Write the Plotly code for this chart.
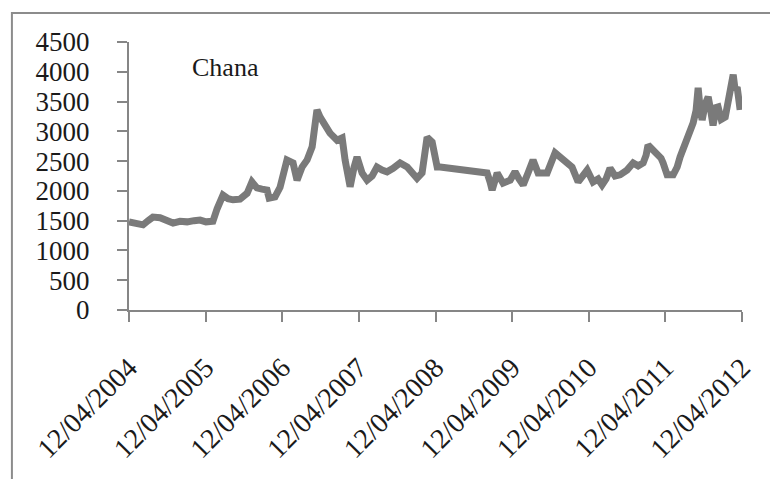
import plotly.graph_objects as go

# Chana price series
dates = [
    "2004-04-12", "2004-05-15", "2004-06-18", "2004-07-12", "2004-08-04", "2004-09-07",
    "2004-10-05", "2004-11-08", "2004-12-11", "2005-01-14", "2005-02-16", "2005-03-17",
    "2005-04-14", "2005-05-17", "2005-06-06", "2005-06-20", "2005-07-04", "2005-07-28",
    "2005-08-21", "2005-09-23", "2005-10-27", "2005-11-19", "2005-12-13", "2006-01-06",
    "2006-01-30", "2006-02-09", "2006-03-09", "2006-04-02", "2006-04-21", "2006-05-05",
    "2006-06-03", "2006-06-22", "2006-07-16", "2006-08-09", "2006-09-02", "2006-09-16",
    "2006-09-25", "2006-10-10", "2006-11-03", "2006-11-26", "2006-12-30", "2007-01-23",
    "2007-02-06", "2007-02-20", "2007-03-02", "2007-03-21", "2007-04-04", "2007-04-28",
    "2007-05-22", "2007-06-15", "2007-07-08", "2007-08-01", "2007-08-25", "2007-09-23",
    "2007-10-26", "2007-11-29", "2007-12-22", "2008-01-15", "2008-02-08", "2008-03-03",
    "2008-03-27", "2008-04-10", "2008-04-20", "2008-05-04",
    "2008-12-14", "2008-12-28", "2009-01-07", "2009-01-31", "2009-02-28", "2009-04-03",
    "2009-04-26", "2009-05-15", "2009-06-04", "2009-06-27", "2009-07-21", "2009-08-14",
    "2009-09-26", "2009-11-03", "2009-11-27", "2009-12-21", "2010-01-23", "2010-02-21",
    "2010-03-12", "2010-04-05", "2010-05-03", "2010-05-27", "2010-06-15", "2010-07-04",
    "2010-07-23", "2010-08-16", "2010-09-09", "2010-10-12", "2010-11-10", "2010-12-04",
    "2010-12-28", "2011-01-11", "2011-01-20", "2011-02-08", "2011-03-04", "2011-03-23",
    "2011-04-02", "2011-04-21", "2011-05-20", "2011-06-08", "2011-06-22", "2011-07-11",
    "2011-07-26", "2011-08-09", "2011-08-23", "2011-09-06", "2011-09-16", "2011-09-25",
    "2011-10-05", "2011-10-19", "2011-11-03", "2011-11-17", "2011-11-26", "2011-12-11",
    "2011-12-20", "2012-01-04", "2012-01-23", "2012-02-06", "2012-02-20", "2012-03-01",
    "2012-03-10", "2012-03-20", "2012-03-29", "2012-04-03",
]
prices = [
    1480, 1450, 1430, 1500, 1560, 1550,
    1510, 1460, 1490, 1480, 1500, 1510,
    1480, 1490, 1700, 1850, 1930, 1870,
    1850, 1860, 1960, 2150, 2050, 2030,
    2015, 1880, 1900, 2060, 2300, 2520,
    2470, 2180, 2400, 2520, 2740, 3100,
    3360, 3240, 3070, 2970, 2850, 2890,
    2520, 2300, 2070, 2400, 2570, 2300,
    2180, 2250, 2400, 2350, 2320, 2380,
    2470, 2400, 2300, 2210, 2300, 2900,
    2820, 2550, 2400, 2400,
    2300, 2150, 2015, 2300, 2130, 2180,
    2320, 2200, 2100, 2300, 2520, 2300,
    2300, 2640, 2560, 2520, 2400, 2150,
    2250, 2350, 2150, 2200, 2100, 2200,
    2380, 2250, 2270, 2350, 2470, 2420,
    2470, 2600, 2770, 2700, 2640, 2550,
    2470, 2270, 2270, 2400, 2570, 2750,
    2900, 3000, 3140, 3350, 3730, 3400,
    3190, 3450, 3580, 3300, 3100, 3400,
    3410, 3200, 3240, 3500, 3700, 3950,
    3700, 3740, 3500, 3360,
]

tick_dates = ["2004-04-12", "2005-04-12", "2006-04-12", "2007-04-12", "2008-04-12",
              "2009-04-12", "2010-04-12", "2011-04-12", "2012-04-12"]
tick_labels = ["12/04/2004", "12/04/2005", "12/04/2006", "12/04/2007", "12/04/2008",
               "12/04/2009", "12/04/2010", "12/04/2011", "12/04/2012"]
y_ticks = [0, 500, 1000, 1500, 2000, 2500, 3000, 3500, 4000, 4500]

FONT = "Liberation Serif, Times New Roman, serif"
AXIS_COLOR = "#868686"

fig = go.Figure()
fig.add_trace(go.Scatter(
    x=dates, y=prices, mode="lines",
    line=dict(color="#7a7a7a", width=7),
    showlegend=False, hoverinfo="skip",
))

fig.update_layout(
    width=778, height=479,
    margin=dict(l=121, r=44, t=34, b=177, autoexpand=False),
    paper_bgcolor="white", plot_bgcolor="white",
    font=dict(family=FONT, color="#1a1a1a", size=27),
    xaxis=dict(
        type="date", automargin=False,
        range=[tick_dates[0], tick_dates[-1]],
        tickmode="array", tickvals=tick_dates, ticktext=tick_labels,
        tickangle=-45,
        showgrid=False, zeroline=False,
        showline=True, linecolor=AXIS_COLOR, linewidth=2,
        ticks="outside", ticklen=10, tickwidth=2, tickcolor=AXIS_COLOR,
        ticklabelstandoff=18,
        tickfont=dict(family=FONT, size=28, color="#1a1a1a"),
    ),
    yaxis=dict(
        automargin=False,
        range=[0, 4500],
        tickmode="array", tickvals=y_ticks,
        showgrid=False, zeroline=False,
        showline=True, linecolor=AXIS_COLOR, linewidth=2,
        ticks="outside", ticklen=10, tickwidth=2, tickcolor=AXIS_COLOR,
        ticklabelstandoff=22,
        tickfont=dict(family=FONT, size=27, color="#1a1a1a"),
    ),
    annotations=[dict(
        text="Chana", xref="paper", yref="paper",
        x=0.099, y=0.903, xanchor="left", yanchor="middle",
        showarrow=False, font=dict(family=FONT, size=26, color="#1a1a1a"),
    )],
    shapes=[dict(
        type="rect", xref="paper", yref="paper",
        x0=-0.191, x1=2.0, y0=-2.0, y1=1.108,
        line=dict(color="#8c8c8c", width=2), fillcolor="rgba(0,0,0,0)",
        layer="below",
    )],
)

fig.write_html("out.html")
